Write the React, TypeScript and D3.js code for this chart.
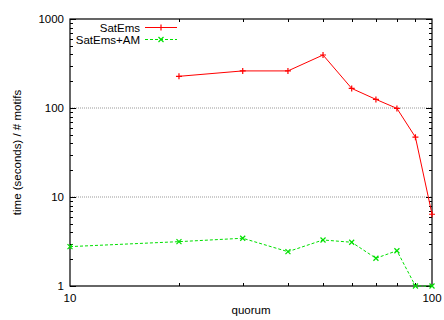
import * as d3 from "d3";
import { useRef, useEffect } from "react";

const quorum = [10, 20, 30, 40, 50, 60, 70, 80, 90, 100];
const satEms = [null, 227, 261, 261, 394, 166, 125, 99, 47, 6.4];
const satEmsAM = [2.77, 3.15, 3.44, 2.43, 3.29, 3.1, 2.05, 2.49, 1, 1];
const yTicks = [1, 10, 100, 1000];
const xTicks = [10, 100];
const seriesNames = ["SatEms", "SatEms+AM"];

export default function App({
  width = 444,
  height = 320,
  marginTop = 19,
  marginRight = 12,
  marginBottom = 34,
  marginLeft = 70,
}) {
  const svgRef = useRef(null);

  useEffect(() => {
    const svg = d3.select(svgRef.current);
    svg.selectAll("*").remove();

    const x = d3.scaleLog()
      .domain([10, 100])
      .range([marginLeft, width - marginRight]);

    const y = d3.scaleLog()
      .domain([1, 1000])
      .range([height - marginBottom, marginTop]);

    const font = "'Liberation Sans', Arial, sans-serif";
    const fs = 11.5;
    const x0 = marginLeft, x1 = width - marginRight;
    const y0 = height - marginBottom, y1 = marginTop;

    // grid at 10 and 100
    svg.append("g")
      .selectAll("line")
      .data([10, 100])
      .join("line")
        .attr("x1", x0)
        .attr("x2", x1)
        .attr("y1", d => y(d))
        .attr("y2", d => y(d))
        .attr("stroke", "#999")
        .attr("stroke-width", 1)
        .attr("stroke-dasharray", "1,1");

    // y ticks (major + minor), left and right
    const minor = [];
    for (let e = 0; e < 3; e++) {
      for (let k = 2; k <= 9; k++) minor.push(k * Math.pow(10, e));
    }
    const tickG = svg.append("g").attr("stroke", "#000").attr("stroke-width", 1);
    [x0, x1].forEach((xx, i) => {
      const dir = i === 0 ? 1 : -1;
      tickG.selectAll(null)
        .data(yTicks)
        .join("line")
          .attr("x1", xx)
          .attr("x2", xx + dir * 6)
          .attr("y1", d => Math.round(y(d)) + 0.5)
          .attr("y2", d => Math.round(y(d)) + 0.5);
      tickG.selectAll(null)
        .data(minor)
        .join("line")
          .attr("x1", xx)
          .attr("x2", xx + dir * 3)
          .attr("y1", d => Math.round(y(d)) + 0.5)
          .attr("y2", d => Math.round(y(d)) + 0.5);
    });

    // x minor ticks at 20..90, bottom and top
    const xMinor = quorum.slice(1, 9);
    [y0, y1].forEach((yy, i) => {
      const dir = i === 0 ? -1 : 1;
      tickG.selectAll(null)
        .data(xMinor)
        .join("line")
          .attr("x1", d => Math.round(x(d)) + 0.5)
          .attr("x2", d => Math.round(x(d)) + 0.5)
          .attr("y1", yy)
          .attr("y2", yy + dir * 3);
    });

    // frame
    svg.append("rect")
      .attr("x", x0)
      .attr("y", y1)
      .attr("width", x1 - x0)
      .attr("height", y0 - y1)
      .attr("fill", "none")
      .attr("stroke", "#000")
      .attr("stroke-width", 1.2);

    // tick labels
    svg.append("g")
      .attr("font-family", font)
      .attr("font-size", fs)
      .attr("text-anchor", "end")
      .selectAll("text")
      .data(yTicks)
      .join("text")
        .attr("x", x0 - 6)
        .attr("y", d => y(d))
        .attr("dy", "0.35em")
        .text(d => d);

    svg.append("g")
      .attr("font-family", font)
      .attr("font-size", fs)
      .attr("text-anchor", "middle")
      .selectAll("text")
      .data(xTicks)
      .join("text")
        .attr("x", d => x(d))
        .attr("y", y0 + 16)
        .text(d => d);

    // axis titles
    svg.append("text")
      .attr("font-family", font)
      .attr("font-size", fs)
      .attr("text-anchor", "middle")
      .attr("x", (x0 + x1) / 2)
      .attr("y", height - 6)
      .text("quorum");

    svg.append("text")
      .attr("font-family", font)
      .attr("font-size", fs)
      .attr("text-anchor", "middle")
      .attr("transform", `translate(21,${(y0 + y1) / 2}) rotate(-90)`)
      .text("time (seconds) / # motifs");

    const line = d3.line()
      .defined(d => d[1] != null)
      .x(d => x(d[0]))
      .y(d => y(d[1]));

    const red = "#ff0000";
    const green = "#00e000";

    const redData = quorum.map((q, i) => [q, satEms[i]]).filter(d => d[1] != null);
    const greenData = quorum.map((q, i) => [q, satEmsAM[i]]);

    svg.append("path")
      .datum(redData)
      .attr("fill", "none")
      .attr("stroke", red)
      .attr("stroke-width", 1)
      .attr("d", line);

    svg.append("path")
      .datum(greenData)
      .attr("fill", "none")
      .attr("stroke", green)
      .attr("stroke-width", 1)
      .attr("stroke-dasharray", "3,2")
      .attr("d", line);

    const plus = (g, cx, cy, c) => {
      g.append("path")
        .attr("d", `M${cx - 3},${cy}H${cx + 3}M${cx},${cy - 3}V${cy + 3}`)
        .attr("stroke", c)
        .attr("stroke-width", 1.2);
    };
    const cross = (g, cx, cy, c) => {
      g.append("path")
        .attr("d", `M${cx - 2.5},${cy - 2.5}L${cx + 2.5},${cy + 2.5}M${cx - 2.5},${cy + 2.5}L${cx + 2.5},${cy - 2.5}`)
        .attr("stroke", c)
        .attr("stroke-width", 1.2);
    };

    const marks = svg.append("g");
    redData.forEach(d => plus(marks, x(d[0]), y(d[1]), red));
    greenData.forEach(d => cross(marks, x(d[0]), y(d[1]), green));

    // legend
    const legend = svg.append("g")
      .attr("font-family", font)
      .attr("font-size", fs);
    const rows = [
      { name: seriesNames[0], color: red, dash: null, mark: plus, yy: 27.5 },
      { name: seriesNames[1], color: green, dash: "3,2", mark: cross, yy: 39.5 },
    ];
    rows.forEach(r => {
      legend.append("text")
        .attr("x", 140)
        .attr("y", r.yy)
        .attr("dy", "0.35em")
        .attr("text-anchor", "end")
        .text(r.name);
      legend.append("line")
        .attr("x1", 145)
        .attr("x2", 177)
        .attr("y1", r.yy)
        .attr("y2", r.yy)
        .attr("stroke", r.color)
        .attr("stroke-dasharray", r.dash);
      r.mark(legend, 161, r.yy, r.color);
    });
  }, []);

  return (
    <svg
      ref={svgRef}
      width={width}
      height={height}
      viewBox={`0 0 ${width} ${height}`}
      style={{ position: "absolute", left: 0, top: 0, background: "#fff" }}
    />
  );
}
